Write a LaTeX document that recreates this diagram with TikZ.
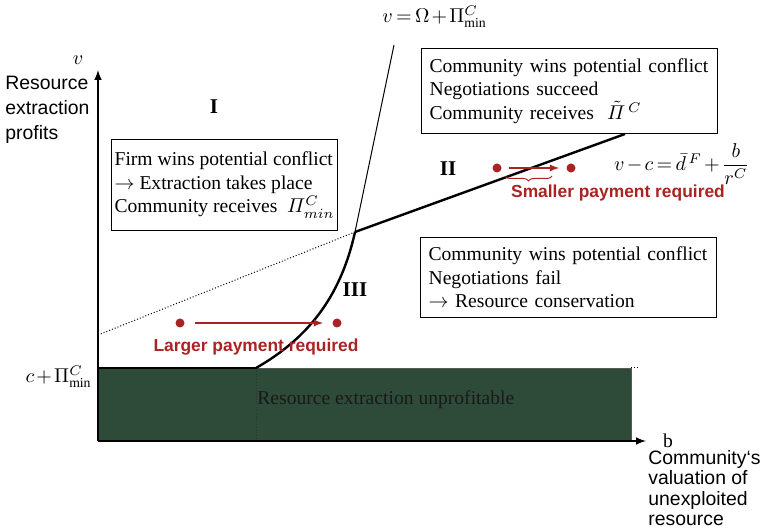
\documentclass[tikz,border=0pt]{standalone}
\usepackage{amsmath}
\usepackage{amssymb}
\usepackage{fontspec}
\setmainfont{Liberation Serif}
\setsansfont{Liberation Sans}
\usetikzlibrary{decorations.pathreplacing}
\definecolor{lossgreen}{RGB}{46,75,58}
\definecolor{payred}{RGB}{170,35,35}
\newcommand{\tightmath}{\medmuskip=2mu\relax\thickmuskip=3mu\relax}

\begin{document}
\begin{tikzpicture}[x=0.5pt,y=-0.5pt,
    txt/.style={font=\fontsize{9.8}{11.75}\selectfont\tightmath},
    axlabel/.style={font=\fontsize{9.7}{12.5}\selectfont\sffamily,align=left,inner sep=0pt},
    casebox/.style={txt,draw,line width=0.6pt,anchor=north west,align=left,inner ysep=0pt},
    region/.style={font=\fontsize{10.5}{12}\selectfont\bfseries,inner sep=0pt},
    paydot/.style={circle,fill=payred,inner sep=0pt,minimum size=4.5pt},
    paylabel/.style={font=\fontsize{8.7}{10}\selectfont\sffamily\bfseries,text=payred,inner sep=0pt},
    payarrow/.style={payred,line width=0.6pt,-latex}]
    \useasboundingbox (0,0) rectangle (764,528);

    % 坐标原点与拐点
    \coordinate (O) at (98,441);
    \coordinate (K) at (355,232);
    \coordinate (C) at (256,368);

    % 不盈利区域
    \fill[lossgreen] (98,368) rectangle (631,441);
    \draw[gray!70!black,line width=0.4pt] (C) -- (631,368) -- (631,441);
    \draw[densely dotted,line width=0.5pt] (631,368) -- (638,368);
    \draw[densely dotted,line width=0.4pt,black!80] (C) -- (256,441);
    \draw[line width=1.2pt] (98,368) -- (C);
    \node[txt,anchor=west,inner sep=0pt,text=black!90] (loss) at (257,400) {Resource extraction unprofitable};

    % 坐标轴
    \draw[line width=0.7pt,-latex] (O) -- (98,70) coordinate (ytop);
    \draw[line width=0.7pt,-latex] (O) -- (646,441) coordinate (xend);
    \node[txt,inner sep=0pt] (vlab) at (78,60) {$v$};
    \node[axlabel,anchor=west] (ylab) at (5,110) {Resource\\extraction\\profits};
    \node[txt,inner sep=0pt] (blab) at (668,441) {b};
    \node[axlabel,anchor=north west,font=\fontsize{9.7}{10.2}\selectfont\sffamily] (xlab) at (648,450)
        {Community`s\\valuation of\\unexploited\\resource};
    \node[txt,anchor=east,inner sep=0pt] (cmin) at (92,377) {$c+\Pi^{C}_{\mathrm{min}}$};

    % 边界曲线
    \draw[line width=1.2pt] (C) .. controls (305,340) and (340,300) .. (K);
    \draw[line width=0.5pt] (K) -- (394,45);
    \draw[densely dotted,line width=0.5pt] (98,335) -- (K);
    \draw[line width=1.2pt] (K) -- (625,134);
    \node[txt,anchor=west,inner sep=0pt] (omega) at (382,17) {$v=\Omega+\Pi^{C}_{\mathrm{min}}$};
    \node[txt,inner sep=0pt] (slope) at (682,164) {$v-c=\bar{d}^{\,F}+\dfrac{b}{r^{C}}$};

    % 区域标号
    \node[region] (r1) at (214,107) {I};
    \node[region] (r2) at (448,169) {II};
    \node[region] (r3) at (355,290) {III};

    % 文字框
    \node[casebox,inner xsep=1.5pt,minimum width=112pt,minimum height=45.5pt] (boxI) at (111,139)
        {Firm wins potential conflict\\$\rightarrow$ Extraction takes place\\Community receives~ $\varPi^{C}_{min}$};
    \node[casebox,inner xsep=4pt,text width=140pt,minimum height=42.5pt] (boxII) at (421,48)
        {Community wins potential conflict\\Negotiations succeed\\Community receives~ $\tilde{\varPi}^{\,C}$};
    \node[casebox,inner xsep=4pt,text width=140pt,minimum height=40pt] (boxIII) at (420,237)
        {Community wins potential conflict\\Negotiations fail\\$\rightarrow$ Resource conservation};

    % 支付点
    \node[paydot] (a1) at (180,323) {};
    \node[paydot] (a2) at (337,323) {};
    \node[paydot] (b1) at (497,168) {};
    \node[paydot] (b2) at (571,168) {};
    \draw[payarrow,shorten <=10pt/2,shorten >=9pt/2] (a1) -- (a2);
    \draw[payarrow,shorten <=7pt/2,shorten >=7pt/2] (b1) -- (b2);
    \draw[payred,line width=0.5pt,decorate,decoration={brace,mirror,amplitude=2.5pt}] (505,176) -- (552,176);
    \node[paylabel] (small) at (618,193) {Smaller payment required};
    \node[paylabel] (large) at (256,347) {Larger payment required};
\end{tikzpicture}
\end{document}
